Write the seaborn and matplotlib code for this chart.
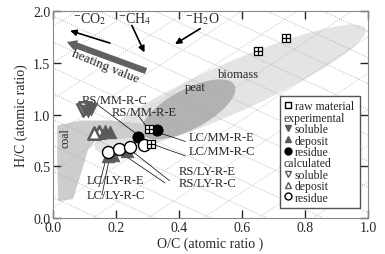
import numpy as np
import pandas as pd
from matplotlib import pyplot as plt
from matplotlib.lines import Line2D
import seaborn as sns

sns.set_style("ticks")
plt.rcParams['font.family'] = ['Liberation Serif', 'DejaVu Serif']
plt.rcParams['mathtext.fontset'] = 'stix'

# datos (O/C, H/C)
raw_oc = [0.65, 0.74, 0.305, 0.31]
raw_hc = [1.61, 1.74, 0.86, 0.72]

exp_sol_oc = [0.11, 0.12]
exp_sol_hc = [1.03, 1.05]
calc_sol_oc = [0.095, 0.10]
calc_sol_hc = [1.04, 1.06]

exp_dep_oc = [0.18, 0.165, 0.175, 0.19, 0.235]
exp_dep_hc = [0.83, 0.84, 0.60, 0.61, 0.645]
calc_dep_oc = [0.145, 0.13]
calc_dep_hc = [0.83, 0.82]

exp_res_oc = [0.33, 0.27]
exp_res_hc = [0.85, 0.78]
calc_res_oc = [0.175, 0.21, 0.245, 0.29]
calc_res_hc = [0.635, 0.665, 0.685, 0.71]

# region del carbon
coal_x = [0.013, 0.086, 0.181, 0.276, 0.308, 0.276, 0.181, 0.133, 0.111, 0.102, 0.083, 0.063, 0.016, 0.013]
coal_y = [0.894, 0.942, 0.942, 0.913, 0.856, 0.779, 0.760, 0.740, 0.663, 0.567, 0.375, 0.183, 0.163, 0.567]

etiquetas = ["RS/MM-R-C", "RS/MM-R-E", "LC/MM-R-E", "LC/MM-R-C",
             "RS/LY-R-E", "RS/LY-R-C", "LC/LY-R-E", "LC/LY-R-C"]
etq_x = [0.09, 0.185, 0.43, 0.43, 0.40, 0.40, 0.105, 0.105]
etq_y = [1.145, 1.02, 0.78, 0.645, 0.45, 0.335, 0.37, 0.22]
linea_x0 = [0.13, 0.27, 0.42, 0.42, 0.37, 0.355, 0.145, 0.155]
linea_y0 = [1.12, 0.99, 0.74, 0.60, 0.36, 0.34, 0.30, 0.22]
linea_x1 = [0.27, 0.30, 0.33, 0.31, 0.245, 0.21, 0.17, 0.18]
linea_y1 = [0.80, 0.87, 0.83, 0.72, 0.66, 0.64, 0.60, 0.60]

PX, PY = 315.0, 104.0  # pixeles por unidad (para elipses)


def elipse(ax, cx, cy, a, b, ang, color):
    t = np.linspace(0, 2 * np.pi, 100)
    th = np.radians(ang)
    ex = a * np.cos(t) * np.cos(th) - b * np.sin(t) * np.sin(th)
    ey = a * np.cos(t) * np.sin(th) + b * np.sin(t) * np.cos(th)
    ax.fill(cx + ex / PX, cy + ey / PY, color=color, lw=0, zorder=0.5)


fig, ax = plt.subplots(figsize=(3.85, 2.55), dpi=100)
fig.subplots_adjust(left=0.138, right=0.956, top=0.953, bottom=0.141)

elipse(ax, 0.562, 1.25, 148, 25, 24, '#e4e4e4')
elipse(ax, 0.43, 1.05, 52, 20, 28, '#b2b2b2')
ax.fill(coal_x, coal_y, color='#cdcdcd', lw=0, zorder=0.5)

# lineas punteadas de fondo
xs = np.linspace(0, 1, 50)
for c in np.arange(0.2, 3.6, 0.25):
    ax.plot(xs, c - 1.4 * xs, ls=':', color='#a8a8a8', lw=0.6, zorder=1)
for c in np.arange(-2.0, 2.0, 0.35):
    ax.plot(xs, c + 2.0 * xs, ls=':', color='#b8b8b8', lw=0.6, zorder=1)

# flechas
ax.annotate("", xy=(0.044, 1.70), xytext=(0.295, 1.42),
            arrowprops=dict(arrowstyle="simple,head_width=0.8,head_length=0.7,tail_width=0.45",
                            color='#606060', lw=0, shrinkA=0, shrinkB=0), zorder=3)
flecha = dict(arrowstyle="-|>", color='k', lw=1.2, shrinkA=0, shrinkB=0, mutation_scale=9)
ax.annotate("", xy=(0.054, 1.81), xytext=(0.18, 1.69), arrowprops=flecha, zorder=3)
ax.annotate("", xy=(0.29, 1.60), xytext=(0.25, 1.86), arrowprops=flecha, zorder=3)
ax.annotate("", xy=(0.387, 1.68), xytext=(0.467, 1.83), arrowprops=flecha, zorder=3)
ax.text(0.115, 1.89, r"$^{-}$CO$_2$", fontsize=10, ha='center')
ax.text(0.26, 1.89, r"$^{-}$CH$_4$", fontsize=10, ha='center')
ax.text(0.475, 1.89, r"$^{-}$H$_2$O", fontsize=10, ha='center')
ax.text(0.165, 1.47, "heating value", rotation=-22, fontsize=9.5, ha='center', va='center')
ax.text(0.45, 1.27, "peat", fontsize=9, ha='center', va='center')
ax.text(0.59, 1.39, "biomass", fontsize=9, ha='center', va='center')
ax.text(0.04, 0.78, "coal", rotation=90, fontsize=8.5, ha='center', va='center')

# etiquetas con lineas
for t, x, y, x0, y0, x1, y1 in zip(etiquetas, etq_x, etq_y, linea_x0, linea_y0, linea_x1, linea_y1):
    ax.plot([x0, x1], [y0, y1], color='k', lw=0.5, zorder=2)
    ax.text(x, y, t, fontsize=9, va='center')

gris = '#5a5a5a'
kw = dict(ax=ax, zorder=5, legend=False)
sns.scatterplot(x=calc_sol_oc, y=calc_sol_hc, marker='v', s=80, color='white', edgecolor=gris, linewidth=1.8, **kw)
sns.scatterplot(x=exp_sol_oc, y=exp_sol_hc, marker='v', s=80, color=gris, edgecolor=gris, **kw)
sns.scatterplot(x=calc_dep_oc, y=calc_dep_hc, marker='^', s=80, color='white', edgecolor=gris, linewidth=1.8, **kw)
sns.scatterplot(x=exp_dep_oc, y=exp_dep_hc, marker='^', s=80, color=gris, edgecolor=gris, **kw)
sns.scatterplot(x=exp_res_oc, y=exp_res_hc, marker='o', s=65, color='black', edgecolor='black', **kw)
sns.scatterplot(x=calc_res_oc, y=calc_res_hc, marker='o', s=75, color='white', edgecolor='black', linewidth=1.0, **kw)
sns.scatterplot(x=raw_oc, y=raw_hc, marker='s', color='white', edgecolor='black', s=32, linewidth=0.9,
                ax=ax, zorder=6, legend=False)
sns.scatterplot(x=raw_oc, y=raw_hc, marker='+', color='black', s=32, linewidth=0.9, ax=ax, zorder=7, legend=False)

# leyenda
h = [
    Line2D([], [], marker='s', mfc='white', mec='k', ls='', ms=5),
    Line2D([], [], ls=''),
    Line2D([], [], marker='v', color=gris, ls='', ms=5),
    Line2D([], [], marker='^', color=gris, ls='', ms=5),
    Line2D([], [], marker='o', color='k', ls='', ms=5),
    Line2D([], [], ls=''),
    Line2D([], [], marker='v', mfc='white', mec=gris, ls='', ms=5),
    Line2D([], [], marker='^', mfc='white', mec=gris, ls='', ms=5),
    Line2D([], [], marker='o', mfc='white', mec='k', ls='', ms=5),
]
lab = ["raw material", "experimental", "soluble", "deposit", "residue",
       "calculated", "soluble", "deposit", "residue"]
leg = ax.legend(h, lab, loc='lower right', bbox_to_anchor=(0.975, 0.05), fontsize=8.5,
                handlelength=0.7, handletextpad=0.2, labelspacing=-0.05, borderpad=0.35,
                borderaxespad=0, fancybox=False, edgecolor='#555555', framealpha=1)
for i in (1, 5):
    leg.get_texts()[i].set_position((-11, 0))

ax.set_xlim(0, 1.0)
ax.set_ylim(0, 2.0)
ax.set_xticks([0, 0.2, 0.4, 0.6, 0.8, 1.0])
ax.set_yticks([0, 0.5, 1.0, 1.5, 2.0])
ax.set_xticklabels(["0.0", "0.2", "0.4", "0.6", "0.8", "1.0"])
ax.set_yticklabels(["0.0", "0.5", "1.0", "1.5", "2.0"])
ax.tick_params(direction='in', top=True, right=True, length=6, width=1, labelsize=10, pad=2)
for s in ax.spines.values():
    s.set_color('#888888')
ax.set_xlabel("O/C (atomic ratio )", fontsize=10, labelpad=2)
ax.set_ylabel("H/C (atomic ratio)", fontsize=10, labelpad=4)

plt.savefig("out.png", dpi=100)
